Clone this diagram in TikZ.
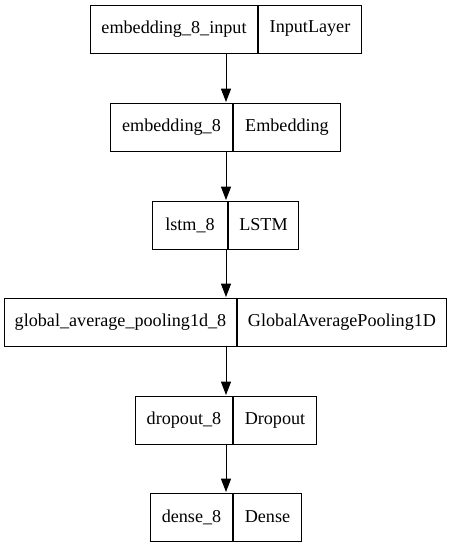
\documentclass[tikz,border=0pt]{standalone}
\usepackage{fontspec}
\setmainfont{Liberation Serif}
\usetikzlibrary{arrows.meta}
\usetikzlibrary{positioning}
\usetikzlibrary{fit}
\tikzset{cell/.style = {draw, minimum height=36pt, inner sep=0pt,
                        font=\fontsize{13.6}{16}\selectfont},
         rec/.style = {inner sep=0pt},
         flow/.style = {-{Triangle[length=10pt, width=7.5pt]}}}

\begin{document}
\begin{tikzpicture}[x=0.75pt, y=-0.75pt, line width=0.75pt]
    \useasboundingbox (0, 0) rectangle (452, 547);

    \node [cell, anchor=east, minimum width=125.25pt] (in_name) at (258, 29) {embedding\_8\_input};
    \node [cell, anchor=west, minimum width=77.25pt] (in_type) at (258, 29) {InputLayer};
    \node [rec, fit=(in_name) (in_type)] (input) {};

    \node [cell, anchor=east, minimum width=91.5pt] (emb_name) at (233, 127) {embedding\_8};
    \node [cell, anchor=west, minimum width=80.25pt] (emb_type) at (233, 127) {Embedding};
    \node [rec, fit=(emb_name) (emb_type)] (emb) {};

    \node [cell, anchor=east, minimum width=56.25pt] (lstm_name) at (228, 225) {lstm\_8};
    \node [cell, anchor=west, minimum width=52.5pt] (lstm_type) at (228, 225) {LSTM};
    \node [rec, fit=(lstm_name) (lstm_type)] (lstm) {};

    \node [cell, anchor=east, minimum width=174pt] (gap_name) at (237, 322) {global\_average\_pooling1d\_8};
    \node [cell, anchor=west, minimum width=156.75pt] (gap_type) at (237, 322) {GlobalAveragePooling1D};
    \node [rec, fit=(gap_name) (gap_type)] (gap) {};

    \node [cell, anchor=east, minimum width=72.75pt] (drop_name) at (233, 420) {dropout\_8};
    \node [cell, anchor=west, minimum width=62.25pt] (drop_type) at (233, 420) {Dropout};
    \node [rec, fit=(drop_name) (drop_type)] (drop) {};

    \node [cell, anchor=east, minimum width=61.5pt] (dense_name) at (233, 517) {dense\_8};
    \node [cell, anchor=west, minimum width=51pt] (dense_type) at (233, 517) {Dense};
    \node [rec, fit=(dense_name) (dense_type)] (dense) {};

    % connectors
    \draw [flow] (input.south) -- (emb.north -| input.south);
    \draw [flow] (emb.south -| input.south) -- (lstm.north -| input.south);
    \draw [flow] (lstm.south -| input.south) -- (gap.north -| input.south);
    \draw [flow] (gap.south -| input.south) -- (drop.north -| input.south);
    \draw [flow] (drop.south -| input.south) -- (dense.north -| input.south);
  \end{tikzpicture}
\end{document}
